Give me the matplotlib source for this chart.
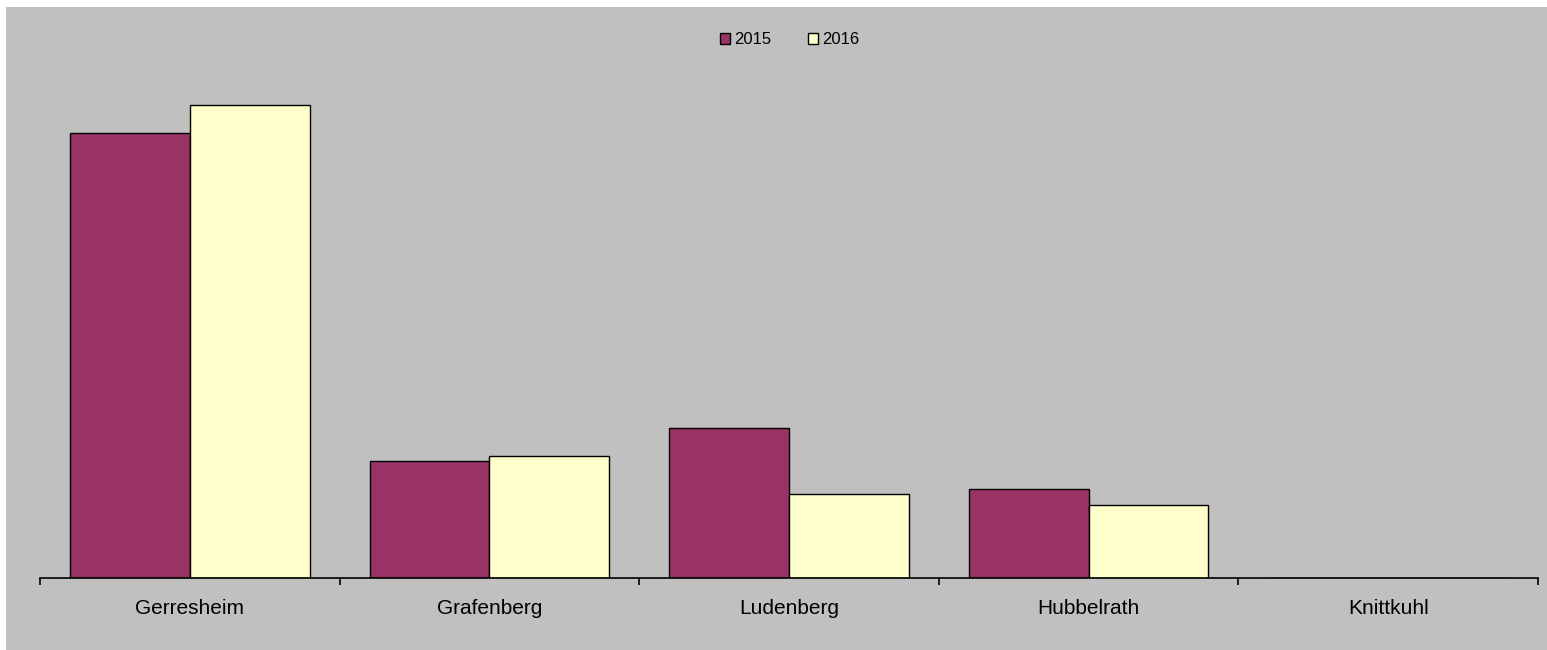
import numpy as np
import matplotlib.pyplot as plt
from matplotlib.patches import Rectangle

plt.rcParams['font.family'] = ['Liberation Sans', 'DejaVu Sans']

# data (arbitrary units)
districts = ['Gerresheim', 'Grafenberg', 'Ludenberg', 'Hubbelrath', 'Knittkuhl']
vals_2015 = [445, 117, 150, 89, 0]
vals_2016 = [473, 122, 84, 73, 0]
years = ['2015', '2016']

W, H = 1547, 650
fig = plt.figure(figsize=(W / 100, H / 100), dpi=100)
fig.patch.set_facecolor('white')
# grey chart area
fig.patches.append(Rectangle((6 / W, 0), 1 - 6 / W, (H - 7) / H,
                             transform=fig.transFigure, facecolor='#C0C0C0',
                             edgecolor='none', zorder=-10))

ax = fig.add_axes([40 / W, (H - 578) / H, 1498 / W, (578 - 60) / H])
ax.set_facecolor('none')
ax.set_zorder(5)

x = np.arange(len(districts))
w = 0.4
ax.bar(x - w / 2, vals_2015, w, color='#993366', edgecolor='black', linewidth=1, label=years[0])
ax.bar(x + w / 2, vals_2016, w, color='#FFFFCC', edgecolor='black', linewidth=1, label=years[1])

ax.set_xlim(-0.5, len(districts) - 0.5)
ax.set_ylim(0, 518)

for s in ['top', 'right', 'left']:
    ax.spines[s].set_visible(False)
ax.spines['bottom'].set_linewidth(1.2)
ax.set_yticks([])

# boundary ticks, labels centred between them
ax.set_xticks(np.arange(-0.5, len(districts), 1.0))
ax.set_xticklabels([])
ax.tick_params(axis='x', which='major', length=5, width=1.2, direction='out')
ax.set_xticks(x, minor=True)
ax.set_xticklabels(districts, minor=True, fontsize=15)
ax.tick_params(axis='x', which='minor', length=0, pad=15)

leg = fig.legend(loc='center', bbox_to_anchor=(790 / W, (H - 40) / H), ncol=2, frameon=False,
                 fontsize=12, handlelength=0.6, handleheight=0.6, handletextpad=0.25,
                 columnspacing=2.2)
leg.set_zorder(6)

fig.savefig('out.png', dpi=100)
